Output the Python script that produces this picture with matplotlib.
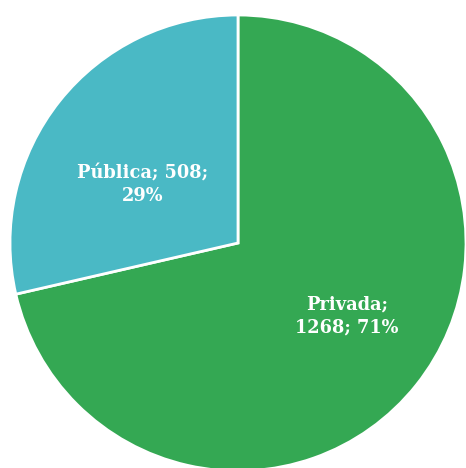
import numpy as np
import matplotlib.pyplot as plt

labels = ["Privada", "Pública"]
values = [1268, 508]
percents = [71, 29]
colors = ["#34a853", "#4ab9c5"]

fig = plt.figure(figsize=(4.66, 4.68), dpi=100)
ax = fig.add_axes([0, 0, 1, 1])
ax.set_xlim(0, 466)
ax.set_ylim(0, 468)
ax.set_aspect("equal")
ax.axis("off")

cx, cy, r = 238, 225, 228
wedges, _ = ax.pie(values, colors=colors, startangle=90, counterclock=False,
                   center=(cx, cy), radius=r,
                   wedgeprops=dict(edgecolor="white", linewidth=2))
ax.set_xlim(0, 466)
ax.set_ylim(0, 468)

texts = [f"{labels[0]};\n{values[0]}; {percents[0]}%",
         f"{labels[1]}; {values[1]};\n{percents[1]}%"]
# label positions as fraction of radius and angle (degrees)
pos = [(0.575, -33.8), (0.49, 148.6)]
for t, (d, a) in zip(texts, pos):
    x = cx + d * r * np.cos(np.radians(a))
    y = cy + d * r * np.sin(np.radians(a))
    ax.text(x, y, t, ha="center", va="center", color="white",
            fontsize=12.8, fontweight="bold", family="DejaVu Serif",
            linespacing=1.3)

fig.savefig("out.png", dpi=100)
